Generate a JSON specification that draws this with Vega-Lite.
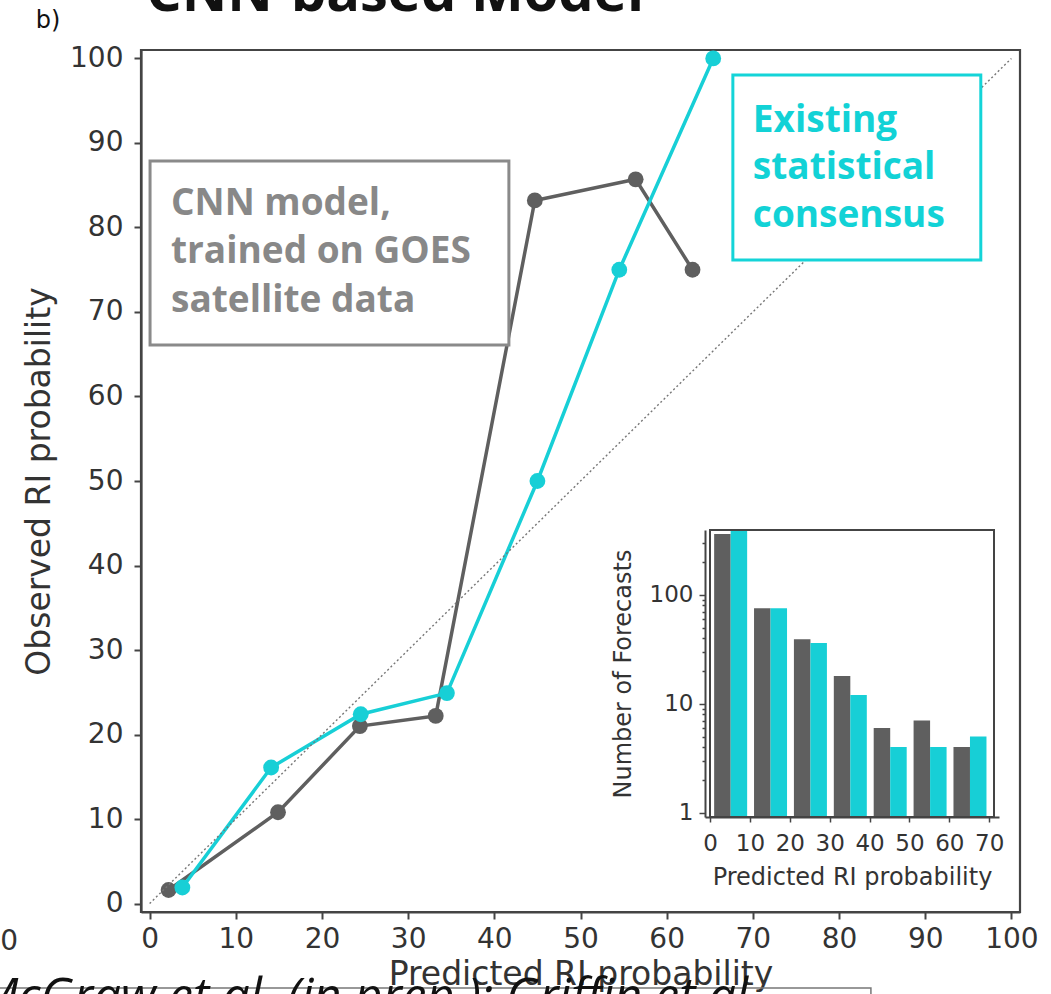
{
  "$schema": "https://vega.github.io/schema/vega-lite/v6.json",
  "width": 879,
  "height": 862,
  "autosize": {"type": "none"},
  "padding": {"left": 141, "top": 50, "right": 31, "bottom": 82},
  "background": "white",
  "config": {
    "view": {"stroke": "#444444", "strokeWidth": 2.2},
    "axis": {"grid": false, "labelFont": "DejaVu Sans", "titleFont": "DejaVu Sans", "labelColor": "#333333", "titleColor": "#333333", "titleFontWeight": "normal", "domainColor": "#444444", "tickColor": "#444444", "labelFlush": false, "labelOverlap": false}
  },
  "datasets": {
    "reliability": [
      {"model": "CNN", "predicted": 2.2, "observed": 1.6},
      {"model": "CNN", "predicted": 14.9, "observed": 10.8},
      {"model": "CNN", "predicted": 24.4, "observed": 21.0},
      {"model": "CNN", "predicted": 33.2, "observed": 22.2},
      {"model": "CNN", "predicted": 44.7, "observed": 83.2},
      {"model": "CNN", "predicted": 56.4, "observed": 85.7},
      {"model": "CNN", "predicted": 63.0, "observed": 75.0},
      {"model": "Consensus", "predicted": 3.8, "observed": 1.9},
      {"model": "Consensus", "predicted": 14.1, "observed": 16.1},
      {"model": "Consensus", "predicted": 24.5, "observed": 22.4},
      {"model": "Consensus", "predicted": 34.5, "observed": 24.9},
      {"model": "Consensus", "predicted": 45.0, "observed": 50.0},
      {"model": "Consensus", "predicted": 54.5, "observed": 75.0},
      {"model": "Consensus", "predicted": 65.4, "observed": 100.0}
    ],
    "counts": [
      {"bin": 0, "model": "CNN", "count": 360},
      {"bin": 0, "model": "Consensus", "count": 400},
      {"bin": 10, "model": "CNN", "count": 75},
      {"bin": 10, "model": "Consensus", "count": 75},
      {"bin": 20, "model": "CNN", "count": 39},
      {"bin": 20, "model": "Consensus", "count": 36},
      {"bin": 30, "model": "CNN", "count": 18},
      {"bin": 30, "model": "Consensus", "count": 12},
      {"bin": 40, "model": "CNN", "count": 6},
      {"bin": 40, "model": "Consensus", "count": 4},
      {"bin": 50, "model": "CNN", "count": 7},
      {"bin": 50, "model": "Consensus", "count": 4},
      {"bin": 60, "model": "CNN", "count": 4},
      {"bin": 60, "model": "Consensus", "count": 5}
    ]
  },
  "layer": [
    {
      "layer": [
        {
          "data": {"name": "reliability"},
          "mark": {"type": "line", "strokeWidth": 3.5, "point": {"filled": true, "size": 250, "opacity": 1}},
          "encoding": {
            "x": {"field": "predicted", "type": "quantitative", "scale": {"domain": [-1, 101], "nice": false, "zero": false},
                  "axis": {"values": [0, 10, 20, 30, 40, 50, 60, 70, 80, 90, 100], "title": "Predicted RI probability", "labelFontSize": 28, "titleFontSize": 33, "tickSize": 7, "tickWidth": 2, "domainWidth": 2.2, "labelPadding": 6, "titlePadding": 5}},
            "y": {"field": "observed", "type": "quantitative", "scale": {"domain": [-1, 101], "nice": false, "zero": false},
                  "axis": {"values": [0, 10, 20, 30, 40, 50, 60, 70, 80, 90, 100], "title": "Observed RI probability", "labelFontSize": 28, "titleFontSize": 33, "tickSize": 7, "tickWidth": 2, "domainWidth": 2.2, "labelPadding": 11, "titlePadding": 13}},
            "color": {"field": "model", "type": "nominal", "scale": {"domain": ["CNN", "Consensus"], "range": ["#5f5f5f", "#17cfd6"]}, "legend": null},
            "order": {"field": "predicted"}
          }
        },
        {
          "data": {"values": [{}]},
          "mark": {"type": "rule", "strokeDash": [2, 2.5], "color": "#777777", "strokeWidth": 1.4},
          "encoding": {
            "x": {"datum": 0, "type": "quantitative"},
            "y": {"datum": 0, "type": "quantitative"},
            "x2": {"datum": 100},
            "y2": {"datum": 100}
          }
        },
        {
          "data": {"values": [{}]},
          "mark": {"type": "rect", "fill": "white", "stroke": "#8a8a8a", "strokeWidth": 3},
          "encoding": {
            "x": {"datum": 0.05, "type": "quantitative"},
            "x2": {"datum": 41.69},
            "y": {"datum": 87.87, "type": "quantitative"},
            "y2": {"datum": 66.1}
          }
        },
        {
          "data": {"values": [{}]},
          "mark": {"type": "rect", "fill": "white", "stroke": "#14d4d8", "strokeWidth": 3},
          "encoding": {
            "x": {"datum": 67.68, "type": "quantitative"},
            "x2": {"datum": 96.45},
            "y": {"datum": 98.05, "type": "quantitative"},
            "y2": {"datum": 76.15}
          }
        },
        {
          "data": {"values": [{}]},
          "mark": {"type": "text", "text": ["CNN model,", "trained on GOES", "satellite data"], "align": "left", "baseline": "alphabetic", "font": "Open Sans", "fontSize": 37, "fontWeight": "bold", "color": "#888888", "lineHeight": 48.5},
          "encoding": {
            "x": {"datum": 2.48, "type": "quantitative"},
            "y": {"datum": 81.48, "type": "quantitative"}
          }
        },
        {
          "data": {"values": [{}]},
          "mark": {"type": "text", "text": ["Existing", "statistical", "consensus"], "align": "left", "baseline": "alphabetic", "font": "Open Sans", "fontSize": 37, "fontWeight": "bold", "color": "#12d2d6", "lineHeight": 47.5},
          "encoding": {
            "x": {"datum": 70.0, "type": "quantitative"},
            "y": {"datum": 91.3, "type": "quantitative"}
          }
        },
        {
          "data": {"values": [{}]},
          "mark": {"type": "text", "text": "CNN-based Model", "align": "center", "baseline": "alphabetic", "font": "Open Sans", "fontSize": 56, "fontWeight": "bold", "color": "#111111"},
          "encoding": {
            "x": {"datum": 28.47, "type": "quantitative"},
            "y": {"datum": 105.6, "type": "quantitative"}
          }
        },
        {
          "data": {"values": [{}]},
          "mark": {"type": "text", "text": "b)", "align": "left", "baseline": "alphabetic", "font": "DejaVu Sans", "fontSize": 24, "color": "#111111"},
          "encoding": {
            "x": {"datum": -13.2, "type": "quantitative"},
            "y": {"datum": 103.6, "type": "quantitative"}
          }
        },
        {
          "data": {"values": [{}]},
          "mark": {"type": "text", "text": "0", "align": "center", "baseline": "alphabetic", "font": "DejaVu Sans", "fontSize": 28, "color": "#333333"},
          "encoding": {
            "x": {"datum": -16.3, "type": "quantitative"},
            "y": {"datum": -5.5, "type": "quantitative"}
          }
        },
        {
          "data": {"values": [{}]},
          "mark": {"type": "rect", "fill": null, "fillOpacity": 0, "stroke": "#777777", "strokeWidth": 1.5},
          "encoding": {
            "x": {"datum": -20, "type": "quantitative"},
            "x2": {"datum": 83.7},
            "y": {"datum": -10.0, "type": "quantitative"},
            "y2": {"datum": -16}
          }
        },
        {
          "data": {"values": [{}]},
          "mark": {"type": "text", "text": "McGraw et al. (in prep.); Griffin et al.", "align": "left", "baseline": "alphabetic", "font": "Open Sans", "fontSize": 49, "fontStyle": "italic", "color": "#111111"},
          "encoding": {
            "x": {"datum": -20.0, "type": "quantitative"},
            "y": {"datum": -12.96, "type": "quantitative"}
          }
        }
      ]
    },
    {
      "layer": [
        {
          "data": {"name": "counts"},
          "mark": {"type": "bar", "width": 16.5, "xOffset": {"expr": "datum.model === 'CNN' ? 12.4 : 28.9"}},
          "encoding": {
            "x": {"field": "bin", "type": "quantitative", "scale": {"domain": [0, 71.2], "range": [564, 858], "nice": false, "zero": false},
                  "axis": {"orient": "bottom", "offset": -95, "values": [0, 10, 20, 30, 40, 50, 60, 70], "title": "Predicted RI probability", "labelFontSize": 23, "titleFontSize": 24, "tickSize": 5, "tickWidth": 1.5, "domainWidth": 2, "labelPadding": 10, "titlePadding": 10, "zindex": 1}},
            "y": {"field": "count", "type": "quantitative", "scale": {"type": "log", "domain": [0.913, 392.6], "range": [767, 480], "nice": false, "clamp": true},
                  "axis": {"orient": "left", "offset": -564, "values": [1, 2, 3, 4, 5, 6, 7, 8, 9, 10, 20, 30, 40, 50, 60, 70, 80, 90, 100, 200, 300],
                           "labelExpr": "(datum.value == 1 || datum.value == 10 || datum.value == 100) ? format(datum.value, 'd') : ''",
                           "tickSize": {"condition": {"test": "datum.value == 1 || datum.value == 10 || datum.value == 100", "value": 6}, "value": 3},
                           "title": "Number of Forecasts", "labelFontSize": 23, "titleFontSize": 24, "tickWidth": 1.5, "domainWidth": 2, "labelPadding": 6, "titlePadding": 14, "zindex": 1}},
            "y2": {"datum": 0.913},
            "color": {"field": "model", "type": "nominal", "scale": {"domain": ["CNN", "Consensus"], "range": ["#5f5f5f", "#17cfd6"]}, "legend": null}
          }
        },
        {
          "data": {"values": [{}]},
          "mark": {"type": "rect", "fill": null, "fillOpacity": 0, "stroke": "#444444", "strokeWidth": 2},
          "encoding": {
            "x": {"datum": 0, "type": "quantitative"},
            "x2": {"datum": 71.2},
            "y": {"datum": 0.913, "type": "quantitative"},
            "y2": {"datum": 392.6}
          }
        }
      ]
    }
  ],
  "resolve": {"scale": {"x": "independent", "y": "independent", "color": "shared"}}
}
